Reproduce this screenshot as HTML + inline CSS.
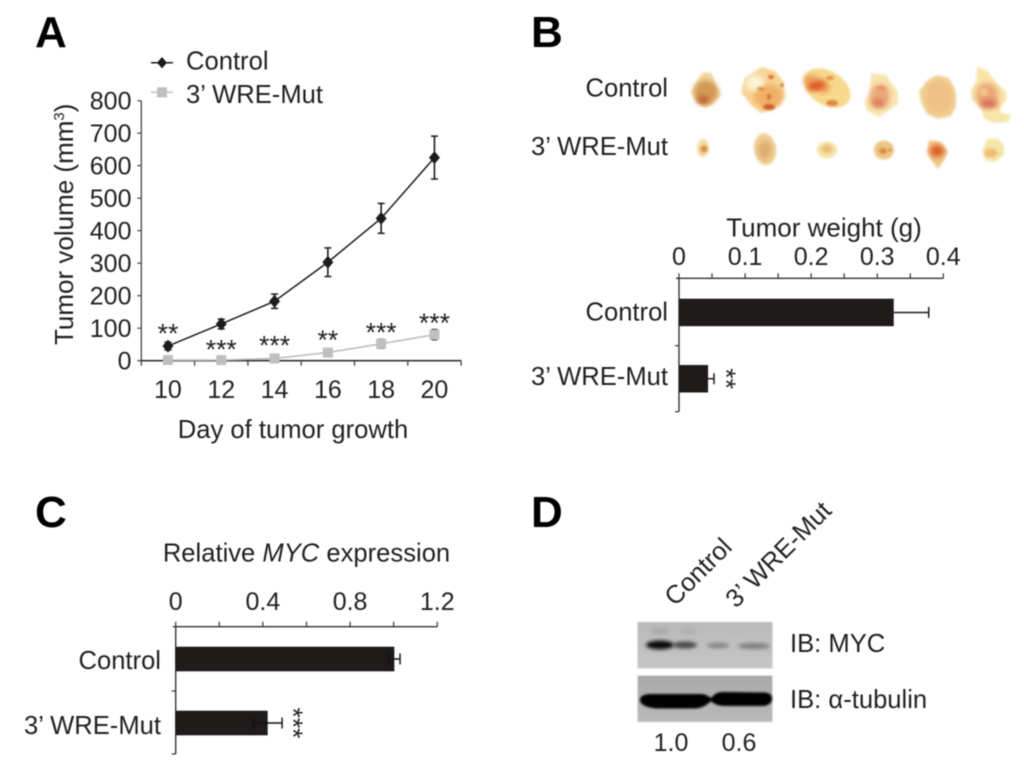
<!DOCTYPE html>
<html lang="en">
<head>
<meta charset="utf-8">
<title>Tumor growth figure</title>
<style>
html,body{margin:0;padding:0;background:#fff;width:1024px;height:762px;overflow:hidden}
svg{display:block;filter:blur(0.4px)}
text{font-family:"Liberation Sans",sans-serif;fill:#231f20}
.t{font-size:25.6px}
.n{font-size:25px}
.p{font-size:44px;font-weight:bold;fill:#000}
.s{font-size:26.6px}
</style>
</head>
<body>
<svg id="fig" xmlns="http://www.w3.org/2000/svg" width="1024" height="762" viewBox="0 0 1024 762">
<defs>
<filter id="b1" x="-30%" y="-30%" width="160%" height="160%"><feGaussianBlur stdDeviation="1"/></filter>
<filter id="b2" x="-40%" y="-40%" width="180%" height="180%"><feGaussianBlur stdDeviation="2.6"/></filter>
<filter id="b3" x="-50%" y="-100%" width="200%" height="300%"><feGaussianBlur stdDeviation="1.8"/></filter>
<linearGradient id="blot1" x1="0" y1="0" x2="0" y2="1"><stop offset="0" stop-color="#b9b9b9"/><stop offset="1" stop-color="#c6c6c6"/></linearGradient>
<linearGradient id="blot2" x1="0" y1="0" x2="0" y2="1"><stop offset="0" stop-color="#a9a9a9"/><stop offset="1" stop-color="#bbbbbb"/></linearGradient>
</defs>

<text class="p" x="35" y="47">A</text>
<text class="p" x="531" y="47">B</text>
<text class="p" x="35" y="527">C</text>
<text class="p" x="531" y="527">D</text>

<!-- Tumor photos -->
<g>
 <text class="t" x="668" y="96.500" text-anchor="end">Control</text>
 <text class="t" x="668" y="155" text-anchor="end">3’ WRE-Mut</text>

 <g>
  <path filter="url(#b1)" fill="#f2d8a0" d="M703 72 L712 73 L715 84 L721 94 L713 104 L705 108 L697 102 L691 92 L697 81Z"/>
  <ellipse filter="url(#b2)" cx="706" cy="92" rx="12" ry="12" fill="#d29a55"/>
  <ellipse filter="url(#b2)" cx="703" cy="100" rx="6" ry="4" fill="#bd5f2a"/>
 </g>
 <g>
  <path filter="url(#b1)" fill="#f7d596" d="M762 67 L775 71 L784 82 L785 96 L779 106 L771 110 L761 113 L750 104 L741 92 L745 78 L752 73Z"/>
  <ellipse filter="url(#b2)" cx="768" cy="96" rx="15" ry="12" fill="#efb066"/>
  <ellipse filter="url(#b2)" cx="755" cy="83" rx="9" ry="8" fill="#fdf4d8"/>
  <ellipse filter="url(#b1)" cx="769" cy="107" rx="6" ry="3" fill="#d05f2c"/>
  <ellipse filter="url(#b1)" cx="771" cy="77" rx="3" ry="2" fill="#da6a38"/>
  <ellipse filter="url(#b1)" cx="761" cy="89" rx="4" ry="2" fill="#e28a48"/>
  <ellipse filter="url(#b1)" cx="769" cy="97" rx="2" ry="3" fill="#d07034"/>
  <circle filter="url(#b1)" cx="782" cy="85" r="1.4" fill="#b05028"/>
 </g>
 <g>
  <ellipse filter="url(#b1)" cx="827" cy="88" rx="25.500" ry="17" transform="rotate(32 827 88)" fill="#f7d98e"/>
  <ellipse filter="url(#b2)" cx="817" cy="84" rx="14" ry="7" transform="rotate(25 817 84)" fill="#ec9a52"/>
  <ellipse filter="url(#b2)" cx="816" cy="86" rx="9" ry="3.500" transform="rotate(-15 816 86)" fill="#d9481f"/>
  <ellipse filter="url(#b1)" cx="832" cy="103" rx="6" ry="3" fill="#e08242"/>
  <ellipse filter="url(#b1)" cx="830" cy="78" rx="4" ry="2" fill="#e38e46"/>
 </g>
 <g>
  <path filter="url(#b1)" fill="#f7e5b0" d="M871 73 L886 75 L893 85 L898 92 L898 104 L889 110 L879 117 L867 111 L864 102 L870 92Z"/>
  <ellipse filter="url(#b2)" cx="880" cy="96" rx="10" ry="12" fill="#eca878"/>
  <ellipse filter="url(#b2)" cx="878" cy="103" rx="7" ry="4" fill="#dd7a58"/>
  <ellipse filter="url(#b1)" cx="881" cy="88" rx="5" ry="2" fill="#e8936a"/>
 </g>
 <g>
  <path filter="url(#b1)" fill="#f0d59c" d="M937 75 L949 78 L955 90 L956 107 L951 116 L938 119 L927 114 L921 102 L919 91 L927 81Z"/>
  <ellipse filter="url(#b2)" cx="939" cy="97" rx="15" ry="18" fill="#f0c184"/>
 </g>
 <g>
  <path filter="url(#b1)" fill="#f7e4a8" d="M977 67 L988 71 L997 84 L1005 90 L1007 98 L1000 108 L1001 113 L1011 115 L1008 122 L992 123 L984 118 L981 108 L972 100 L971 90 L976 82Z"/>
  <ellipse filter="url(#b2)" cx="987" cy="95" rx="11" ry="12" fill="#eba474"/>
  <ellipse filter="url(#b2)" cx="989" cy="104" rx="9" ry="4" fill="#d86a58"/>
  <ellipse filter="url(#b1)" cx="984" cy="92" rx="4" ry="4" fill="#f3c28e"/>
 </g>

 <g>
  <ellipse filter="url(#b1)" cx="703" cy="148" rx="6" ry="9" fill="#f3dba0"/>
  <ellipse filter="url(#b1)" cx="704" cy="149" rx="3.500" ry="3.500" fill="#dc9048"/>
 </g>
 <g>
  <ellipse filter="url(#b1)" cx="765" cy="149" rx="11" ry="16" fill="#efd298" transform="rotate(-8 765 149)"/>
  <ellipse filter="url(#b2)" cx="765" cy="150" rx="7" ry="10" fill="#dfae70"/>
 </g>
 <g>
  <ellipse filter="url(#b1)" cx="827" cy="150" rx="10" ry="8.500" fill="#f5e2aa"/>
  <ellipse filter="url(#b1)" cx="827" cy="149" rx="5.500" ry="4.500" fill="#efc27c"/>
 </g>
 <g>
  <ellipse filter="url(#b1)" cx="884" cy="150" rx="10" ry="9.500" fill="#eec684"/>
  <ellipse filter="url(#b1)" cx="883" cy="151" rx="4" ry="3" fill="#db8a44"/>
  <circle filter="url(#b1)" cx="890" cy="150" r="1.4" fill="#c46a30"/>
 </g>
 <g>
  <path filter="url(#b1)" fill="#f0c888" d="M929 140 L941 142 L948 152 L944 160 L938 169 L931 160 L927 152Z"/>
  <ellipse filter="url(#b2)" cx="937" cy="151" rx="7" ry="6" fill="#dc5c28"/>
 </g>
 <g>
  <path filter="url(#b1)" fill="#f6e4aa" d="M987 139 L998 139 L1004 146 L1004 155 L995 162 L985 160 L982 151Z"/>
  <ellipse filter="url(#b1)" cx="991" cy="153" rx="6.500" ry="4.500" fill="#edbf74"/>
 </g>
</g>

<!-- Western blot -->
<g>
 <text class="t" transform="translate(675 607) rotate(-45)">Control</text>
 <text class="t" transform="translate(736 609) rotate(-45)">3’ WRE-Mut</text>

 <g>
  <rect x="637.5" y="622" width="135" height="46.5" fill="url(#blot1)" stroke="#e2e2e2" stroke-width="1"/>
  <ellipse filter="url(#b3)" cx="660" cy="645" rx="14" ry="4.500" fill="#111"/>
  <ellipse filter="url(#b3)" cx="685" cy="645" rx="12" ry="3.500" fill="#4a4a4a"/>
  <ellipse filter="url(#b3)" cx="718" cy="645.5" rx="11" ry="2.800" fill="#858585"/>
  <ellipse filter="url(#b3)" cx="754" cy="646" rx="16" ry="3" fill="#7e7e7e"/>
  <ellipse filter="url(#b3)" cx="660" cy="631" rx="9" ry="3.500" fill="#ababab"/>
  <ellipse filter="url(#b3)" cx="688" cy="631" rx="9" ry="3.500" fill="#b0b0b0"/>
 </g>
 <g>
  <rect x="637.5" y="675.5" width="135" height="46.5" fill="url(#blot2)" stroke="#e2e2e2" stroke-width="1"/>
  <path d="M640 700 C640 695 646 694 652 694 L700 694 C706 694 708 696 711 698 C714 695 716 692 724 692 L765 692.500 C771 693 772 696 772 699 C772 703 768 706 762 706 L726 706 C718 706 714 704 711 701 C707 705 702 708.500 694 708.500 L660 708.500 C648 708.500 640 705 640 700Z" fill="#050505" filter="url(#b1)"/>
 </g>
 <text class="t" x="790" y="652">IB: MYC</text>
 <text class="t" x="790" y="708" style="font-family:'Liberation Sans','DejaVu Sans',sans-serif">IB: α-tubulin</text>
 <text class="n" x="671" y="751" text-anchor="middle">1.0</text>
 <text class="n" x="739" y="751" text-anchor="middle">0.6</text>
</g>

<g id="chartA"></g>
<g id="chartB"></g>
<g id="chartC"></g>
</svg>

<script>
// Panel A data
const days = [10, 12, 14, 16, 18, 20];
const controlVolume = [45, 113, 183, 303, 438, 625];
const controlVolumeErr = [12, 15, 22, 44, 46, 66];
const mutVolume = [2, 2, 7, 25, 52, 80];
const mutVolumeErr = [2, 2, 3, 5, 14, 16];
const volumeTicks = [0, 100, 200, 300, 400, 500, 600, 700, 800];
const volumeStars = ['**', '***', '***', '**', '***', '***'];
const starHeights = [115, 66, 78, 95, 118, 147];

// Panel B data
const weightGroups = ['Control', '3’ WRE-Mut'];
const weightValues = [0.325, 0.044];
const weightErr = [0.053, 0.009];
const weightTicks = ['0', '0.1', '0.2', '0.3', '0.4'];
const weightStars = ['', '**'];

// Panel C data
const mycGroups = ['Control', '3’ WRE-Mut'];
const mycValues = [1.003, 0.422];
const mycErr = [0.026, 0.066];
const mycTicks = ['0', '0.4', '0.8', '1.2'];
const mycStars = ['', '***'];

const NS = 'http://www.w3.org/2000/svg';
const INK = '#1f1b1b';
const GREY = '#bdbfc1';

function mk(parent, tag, attrs, txt) {
  const el = document.createElementNS(NS, tag);
  for (const k in attrs) el.setAttribute(k, attrs[k]);
  if (txt !== undefined) el.textContent = txt;
  parent.appendChild(el);
  return el;
}
function line(parent, x1, y1, x2, y2, color, w) {
  return mk(parent, 'line', {x1, y1, x2, y2, stroke: color, 'stroke-width': w});
}

/* ---------- Panel A ---------- */
(function () {
  const g = document.getElementById('chartA');
  const x0 = 141.3, step = 53.3, yZero = 360.7, yMax = 100.7, vMax = 800;
  const xScale = d => x0 + step * ((d - days[0]) / 2 + 0.5);
  const yScale = v => yZero - (v / vMax) * (yZero - yMax);

  const yAxis = line(g, x0, yMax, x0, yZero, '#444', 1.3);
  
  
  const xAxis = line(g, x0 - 1, yZero, x0 + step * days.length, yZero, '#333', 1.6);
  
  

  volumeTicks.forEach(v => {
    line(g, x0 - 4, yScale(v), x0, yScale(v), '#444', 1.2);
    const t = mk(g, 'text', {class: 'n', x: 131.5, y: yScale(v) + 9, 'text-anchor': 'end'}, String(v));
    
    
  });
  for (let i = 0; i <= days.length; i++) {
    line(g, x0 + step * i, yZero, x0 + step * i, yZero + 5, '#333', 1.2);
  }
  days.forEach(d => {
    const t = mk(g, 'text', {class: 'n', x: xScale(d), y: 398, 'text-anchor': 'middle'}, String(d));
    
    
  });

  const yTitle = mk(g, 'text', {class: 't', style: 'font-size:26px', transform: 'translate(73 345) rotate(-90)'}, 'Tumor volume (mm');
  mk(yTitle, 'tspan', {dy: -9, 'font-size': 15}, '3');
  mk(yTitle, 'tspan', {dy: 9}, ')');
  
  

  const xTitle = mk(g, 'text', {class: 't', x: 293, y: 438, 'text-anchor': 'middle'}, 'Day of tumor growth');
  
  

  // grey series
  const mutLine = mk(g, 'polyline', {
    points: days.map((d, i) => xScale(d) + ',' + yScale(mutVolume[i])).join(' '),
    fill: 'none', stroke: GREY, 'stroke-width': 1.6
  });
  
  
  days.forEach((d, i) => {
    const cx = xScale(d), cy = yScale(mutVolume[i]), e = mutVolumeErr[i];
    line(g, cx, yScale(mutVolume[i] + e), cx, yScale(Math.max(0, mutVolume[i] - e)), '#333', 1.3);
    line(g, cx - 3, yScale(mutVolume[i] + e), cx + 3, yScale(mutVolume[i] + e), '#333', 1.3);
    line(g, cx - 3, yScale(Math.max(0, mutVolume[i] - e)), cx + 3, yScale(Math.max(0, mutVolume[i] - e)), '#333', 1.3);
    const m = mk(g, 'rect', {x: cx - 5, y: cy - 5, width: 10, height: 10, fill: GREY});
    
    
  });

  // black series
  const ctlLine = mk(g, 'polyline', {
    points: days.map((d, i) => xScale(d) + ',' + yScale(controlVolume[i])).join(' '),
    fill: 'none', stroke: INK, 'stroke-width': 1.5
  });
  
  
  days.forEach((d, i) => {
    const cx = xScale(d), cy = yScale(controlVolume[i]), e = controlVolumeErr[i];
    const hi = yScale(controlVolume[i] + e), lo = yScale(controlVolume[i] - e);
    line(g, cx, hi, cx, lo, INK, 1.6);
    line(g, cx - 3.5, hi, cx + 3.5, hi, INK, 1.5);
    line(g, cx - 3.5, lo, cx + 3.5, lo, INK, 1.5);
    const m = mk(g, 'polygon', {
      points: [[cx, cy - 6.5], [cx + 5.5, cy], [cx, cy + 6.5], [cx - 5.5, cy]].join(' '),
      fill: INK
    });
    
    
  });

  volumeStars.forEach((s, i) => {
    const t = mk(g, 'text', {class: 's', x: xScale(days[i]), y: yScale(starHeights[i]) + 19, 'text-anchor': 'middle'}, s);
    
    
  });

  // legend
  line(g, 151, 62.7, 173, 62.7, INK, 1.5);
  const lk1 = mk(g, 'polygon', {points: '162,57 167,62.7 162,68.400 157,62.7', fill: INK});
  
  
  const lt1 = mk(g, 'text', {class: 't', x: 186, y: 69.5}, 'Control');
  
  
  line(g, 151, 92.3, 173, 92.3, GREY, 1.5);
  const lk2 = mk(g, 'rect', {x: 157, y: 87.3, width: 10, height: 10, fill: GREY});
  
  
  const lt2 = mk(g, 'text', {class: 't', x: 186, y: 103}, '3’ WRE-Mut');
  
  
})();

/* ---------- Horizontal bar panels ---------- */
function barPanel(g, o) {
  const xScale = v => o.x0 + (v / o.max) * o.w;
  const xAxis = line(g, o.x0 - 3, o.yAxis, o.x0 + o.w, o.yAxis, '#333', 1.3);
  
  
  const yAxis = line(g, o.x0, o.yAxis, o.x0, o.yEnd, '#333', 1.4);
  
  
  line(g, o.x0 - 4, o.yMid, o.x0, o.yMid, '#333', 1.2);
  line(g, o.x0 - 4, o.yEnd, o.x0, o.yEnd, '#333', 1.2);
  for (let i = 0; i <= o.minor; i++) {
    const px = o.x0 + o.w * i / o.minor;
    line(g, px, o.yAxis - 5, px, o.yAxis, '#333', 1.2);
  }
  o.ticks.forEach(s => {
    const t = mk(g, 'text', {class: 'n', x: xScale(parseFloat(s)), y: o.tickY, 'text-anchor': 'middle'}, s);
    
    
  });
  o.groups.forEach((name, i) => {
    const top = o.barTops[i];
    const r = mk(g, 'rect', {x: o.x0, y: top, width: xScale(o.values[i]) - o.x0, height: o.barH, fill: INK});
    
    
    const cy = top + o.barH / 2;
    const xl = xScale(o.bothSides ? o.values[i] - o.err[i] : o.values[i]);
    const xh = xScale(o.values[i] + o.err[i]);
    line(g, xl, cy, xh, cy, o.bothSides ? '#111' : INK, 1.5);
    line(g, xh, cy - 5.5, xh, cy + 5.5, INK, 1.5);
    if (o.bothSides) line(g, xl, cy - 5.5, xl, cy + 5.5, '#111', 1.5);
    const lab = mk(g, 'text', {class: 't', x: o.labelX, y: o.labelY[i], 'text-anchor': 'end'}, name);
    
    
    if (o.stars[i]) {
      const st = mk(g, 'text', {
        class: 's', 'text-anchor': 'middle',
        transform: 'translate(' + (xh + o.starGap) + ' ' + cy + ') rotate(90)'
      }, o.stars[i]);
      
      
    }
  });
}

barPanel(document.getElementById('chartB'), {
  x0: 679, w: 264.3, max: 0.4, minor: 8, yAxis: 278.3, yEnd: 411.7, yMid: 345.7,
  ticks: weightTicks, tickY: 265, groups: weightGroups, values: weightValues, err: weightErr,
  barTops: [298.7, 365], barH: 27.5, labelX: 668, labelY: [320.7, 385],
  stars: weightStars, starGap: 3, bothSides: false
});
const titleB = mk(document.getElementById('chartB'), 'text', {class: 't', style: 'font-size:26px', x: 824, y: 236.7, 'text-anchor': 'middle'}, 'Tumor weight (g)');



barPanel(document.getElementById('chartC'), {
  x0: 175.7, w: 261.6, max: 1.2, minor: 6, yAxis: 626.7, yEnd: 754, yMid: 691,
  ticks: mycTicks, tickY: 610, groups: mycGroups, values: mycValues, err: mycErr,
  barTops: [646.7, 710.7], barH: 24.6, labelX: 161, labelY: [669, 734],
  stars: mycStars, starGap: 2, bothSides: true
});
const titleC = mk(document.getElementById('chartC'), 'text', {class: 't', x: 306.5, y: 561.7, 'text-anchor': 'middle'});
mk(titleC, 'tspan', {}, 'Relative ');
mk(titleC, 'tspan', {'font-style': 'italic'}, 'MYC');
mk(titleC, 'tspan', {}, ' expression');


</script>
</body>
</html>
